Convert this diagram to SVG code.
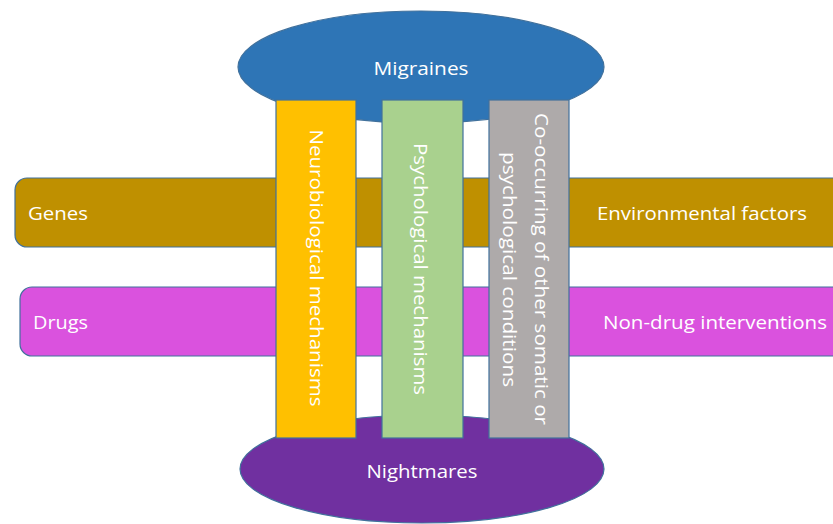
<svg xmlns="http://www.w3.org/2000/svg" width="833" height="524" viewBox="0 0 833 524">
<style>
.s{stroke:#41719C;stroke-width:1.2}
.t{font-family:"Open Sans","Liberation Sans",sans-serif;font-size:19px;fill:#ffffff;text-anchor:middle;dominant-baseline:central}
</style>
<rect width="833" height="524" fill="#ffffff"/>
<g id="migraines">
<ellipse class="s" cx="421" cy="67" rx="183" ry="56" fill="#2E75B6"/>
<text class="t" x="421" y="68" textLength="95" lengthAdjust="spacingAndGlyphs">Migraines</text>
</g>
<g id="nightmares">
<ellipse class="s" cx="422" cy="469" rx="182" ry="54" fill="#7030A0"/>
<text class="t" x="422" y="471" textLength="111" lengthAdjust="spacingAndGlyphs">Nightmares</text>
</g>
<g id="genes-env">
<rect class="s" x="15" y="178" width="840" height="69" rx="12" fill="#BF9000"/>
<text class="t" x="58" y="213" textLength="60" lengthAdjust="spacingAndGlyphs">Genes</text>
<text class="t" x="702" y="213" textLength="210" lengthAdjust="spacingAndGlyphs">Environmental factors</text>
</g>
<g id="drugs-nondrug">
<rect class="s" x="20" y="287" width="840" height="69" rx="12" fill="#DA52DE"/>
<text class="t" x="60.5" y="322" textLength="55" lengthAdjust="spacingAndGlyphs">Drugs</text>
<text class="t" x="715" y="322" textLength="224" lengthAdjust="spacingAndGlyphs">Non-drug interventions</text>
</g>
<g id="connectors"></g>
<g id="neuro">
<rect class="s" x="276" y="100" width="80" height="338" fill="#FFC000"/>
<text class="t" transform="translate(317,268) rotate(90)" x="0" y="0" textLength="277" lengthAdjust="spacingAndGlyphs">Neurobiological mechanisms</text>
</g>
<g id="psych">
<rect class="s" x="382" y="100" width="81" height="338" fill="#A9D18E"/>
<text class="t" transform="translate(421,269) rotate(90)" x="0" y="0" textLength="252" lengthAdjust="spacingAndGlyphs">Psychological mechanisms</text>
</g>
<g id="cooccur">
<rect class="s" x="489" y="100" width="80" height="338" fill="#AEAAAA"/>
<text class="t" transform="translate(542,269) rotate(90)" x="0" y="0" textLength="312" lengthAdjust="spacingAndGlyphs">Co-occurring of other somatic or</text>
<text class="t" transform="translate(510,269.5) rotate(90)" x="0" y="0" textLength="235" lengthAdjust="spacingAndGlyphs">psychological conditions</text>
</g>
</svg>
